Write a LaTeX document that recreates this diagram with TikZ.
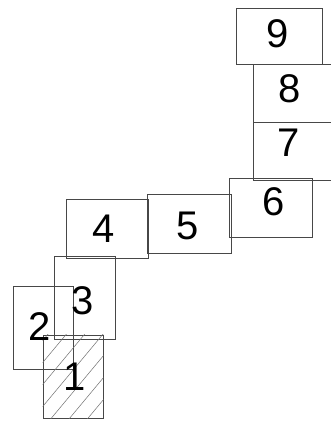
\documentclass[tikz,border=0pt]{standalone}
\usepackage{fontspec}
\setmainfont{Liberation Sans}
\begin{document}
\begin{tikzpicture}[x=1pt,y=-1pt,
  box/.style={draw=black!72,line width=0.75pt,rectangle,inner sep=0pt,fill=none},
  lab/.style={inner sep=0pt,font=\fontsize{40}{40}\selectfont,text=black},
  hatch/.style={draw=black!55,line width=0.5pt}]
\useasboundingbox (0,0) rectangle (331,421);
\clip (0,0) rectangle (331,421);
\node[box,minimum width=60pt,minimum height=83pt] (n1) at (73,376.5) {};
\node[box,minimum width=60pt,minimum height=83pt] (n2) at (43,327.5) {};
\node[box,minimum width=61pt,minimum height=83pt] (n3) at (84.5,297.5) {};
\node[box,minimum width=82pt,minimum height=59pt] (n4) at (107,228.5) {};
\node[box,minimum width=84pt,minimum height=59pt] (n5) at (189,223.5) {};
\node[box,minimum width=83pt,minimum height=59pt] (n6) at (270.5,207.5) {};
\node[box,minimum width=92pt,minimum height=58pt] (n7) at (299,151) {};
\node[box,minimum width=92pt,minimum height=58pt] (n8) at (299,93) {};
\node[box,minimum width=86pt,minimum height=56pt] (n9) at (279,36) {};
\begin{scope}
  \clip (n1.south west) rectangle (n1.north east);
  \foreach \k in {-2,...,7}
    \draw[hatch] ([yshift={-28pt-22pt*\k}]n1.north west) -- ++(100,-120);
\end{scope}
\node[lab] (l1) at (75,377) {1};
\node[lab] (l2) at (40,327) {2};
\node[lab] (l3) at (83,301) {3};
\node[lab] (l4) at (104,229) {4};
\node[lab] (l5) at (188,226) {5};
\node[lab] (l6) at (274,202) {6};
\node[lab] (l7) at (289,143) {7};
\node[lab] (l8) at (290,89) {8};
\node[lab] (l9) at (278,34) {9};
\end{tikzpicture}
\end{document}
